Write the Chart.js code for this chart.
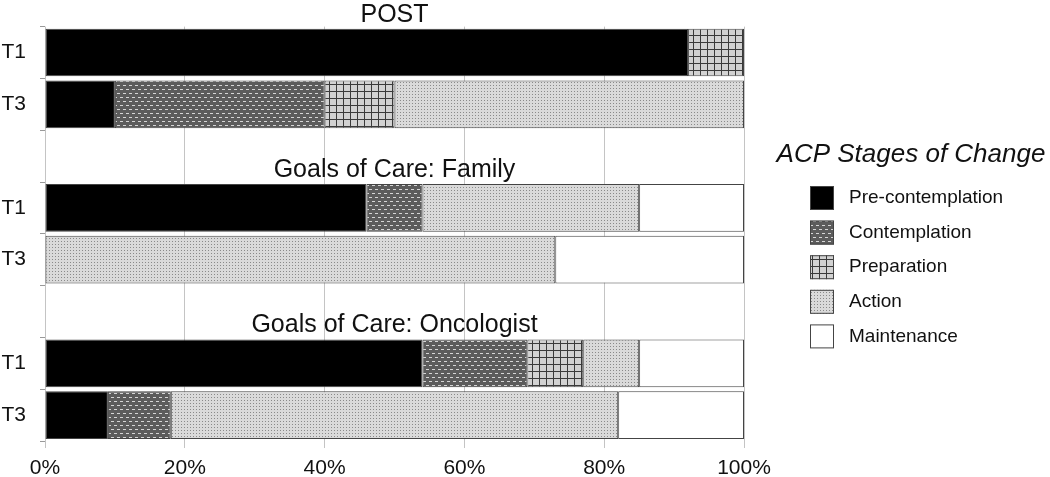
<!DOCTYPE html>
<html lang="en">
<head>
    <meta charset="UTF-8">
    <title>ACP Stages of Change</title>
    <script src="https://cdn.jsdelivr.net/npm/chart.js@4"></script>
    <style>
        html, body { margin: 0; padding: 0; background: #fff; }
        #wrap { width: 1050px; height: 477px; }
    </style>
</head>
<body>
<div id="wrap"><canvas id="myChart" width="1050" height="477"></canvas></div>
<script>
    // rows: blank slots hold the group titles
    const rowLabels = ['T1', 'T3', '', 'T1', 'T3', '', 'T1', 'T3']
    const groupTitles = ['POST', 'Goals of Care: Family', 'Goals of Care: Oncologist']
    const groupFirstRow = [0, 3, 6]
    const stages = ['Pre-contemplation', 'Contemplation', 'Preparation', 'Action', 'Maintenance']
    const xTicks = [0, 20, 40, 60, 80, 100]

    // percent of patients in each stage
    const preContemplation = [92, 10, null, 46, null, null, 54, 9]
    const contemplation    = [null, 30, null, 8, null, null, 15, 9]
    const preparation      = [8, 10, null, null, null, null, 8, null]
    const action           = [null, 50, null, 31, 73, null, 8, 64]
    const maintenance      = [null, null, null, 15, 27, null, 15, 18]

    const FONT = "'Liberation Sans', Arial, sans-serif"

    function makePattern(w, h, draw) {
        var c = document.createElement('canvas')
        c.width = w
        c.height = h
        var g = c.getContext('2d')
        draw(g)
        return document.getElementById('myChart').getContext('2d').createPattern(c, 'repeat')
    }

    var dashes = makePattern(6, 8, function(g) {
        g.fillStyle = '#5c5c5c'
        g.fillRect(0, 0, 6, 8)
        g.fillStyle = '#d6d6d6'
        g.fillRect(0, 1, 3, 1)
        g.fillRect(3, 5, 3, 1)
    })
    var grid = makePattern(7, 7, function(g) {
        g.fillStyle = '#d2d2d2'
        g.fillRect(0, 0, 7, 7)
        g.fillStyle = '#3a3a3a'
        g.fillRect(0, 0, 7, 1)
        g.fillRect(0, 0, 1, 7)
    })
    var dots = makePattern(3, 3, function(g) {
        g.fillStyle = '#dadada'
        g.fillRect(0, 0, 3, 3)
        g.fillStyle = '#8a8a8a'
        g.fillRect(1, 1, 1, 1)
    })

    const fills = ['#000000', dashes, grid, dots, '#ffffff']
    const series = [preContemplation, contemplation, preparation, action, maintenance]

    var groupTitlePlugin = {
        id: 'groupTitles',
        afterDatasetsDraw: function(chart) {
            var ctx = chart.ctx
            var y = chart.scales.y
            var area = chart.chartArea
            var half = (y.getPixelForValue(1) - y.getPixelForValue(0)) / 2
            ctx.save()
            ctx.font = '25px ' + FONT
            ctx.fillStyle = '#111'
            ctx.textAlign = 'center'
            ctx.textBaseline = 'alphabetic'
            groupTitles.forEach(function(t, i) {
                var top = y.getPixelForValue(groupFirstRow[i]) - half * 0.92
                ctx.fillText(t, (area.left + area.right) / 2, top - 7)
            })
            ctx.restore()
        }
    }

    var stageLegendPlugin = {
        id: 'stageLegend',
        afterDraw: function(chart) {
            var ctx = chart.ctx
            ctx.save()
            ctx.fillStyle = '#111'
            ctx.font = 'italic 26px ' + FONT
            ctx.textAlign = 'center'
            ctx.textBaseline = 'alphabetic'
            ctx.fillText('ACP Stages of Change', 911, 162)
            ctx.font = '19px ' + FONT
            ctx.textAlign = 'left'
            ctx.textBaseline = 'middle'
            stages.forEach(function(s, i) {
                var top = 186 + i * 34.6
                ctx.fillStyle = fills[i]
                ctx.fillRect(810, top, 24, 24)
                ctx.strokeStyle = '#444'
                ctx.lineWidth = 1
                ctx.strokeRect(810.5, top + 0.5, 23, 23)
                ctx.fillStyle = '#111'
                ctx.fillText(s, 849, top + 12)
            })
            ctx.restore()
        }
    }

    var ctx = document.getElementById('myChart').getContext('2d')
    var chart = new Chart(ctx, {
        type: 'bar',
        data: {
            labels: rowLabels,
            datasets: stages.map(function(s, i) {
                return {
                    label: s,
                    data: series[i],
                    backgroundColor: fills[i],
                    borderColor: '#444',
                    borderWidth: 1,
                    borderSkipped: false,
                    barPercentage: 0.92,
                    categoryPercentage: 1
                }
            })
        },
        options: {
            indexAxis: 'y',
            responsive: false,
            animation: false,
            devicePixelRatio: 1,
            layout: { padding: { top: 25, right: 306, left: 0, bottom: 0 } },
            plugins: {
                legend: { display: false },
                tooltip: { enabled: false }
            },
            scales: {
                x: {
                    stacked: true,
                    min: 0,
                    max: 100,
                    afterBuildTicks: function(s) {
                        s.ticks = xTicks.map(function(v) { return { value: v } })
                    },
                    afterFit: function(s) { s.height = 36 },
                    border: { display: false },
                    grid: { color: '#c4c4c4', tickLength: 7 },
                    ticks: {
                        padding: 8,
                        color: '#111',
                        font: { family: FONT, size: 21 },
                        callback: function(v) { return v + '%' }
                    }
                },
                y: {
                    stacked: true,
                    afterFit: function(s) { s.width = 45 },
                    border: { display: false },
                    grid: { drawOnChartArea: false, offset: true, tickLength: 5, color: '#999' },
                    ticks: {
                        padding: 14,
                        color: '#111',
                        font: { family: FONT, size: 21 }
                    }
                }
            }
        },
        plugins: [groupTitlePlugin, stageLegendPlugin]
    })
</script>
</body>
</html>
